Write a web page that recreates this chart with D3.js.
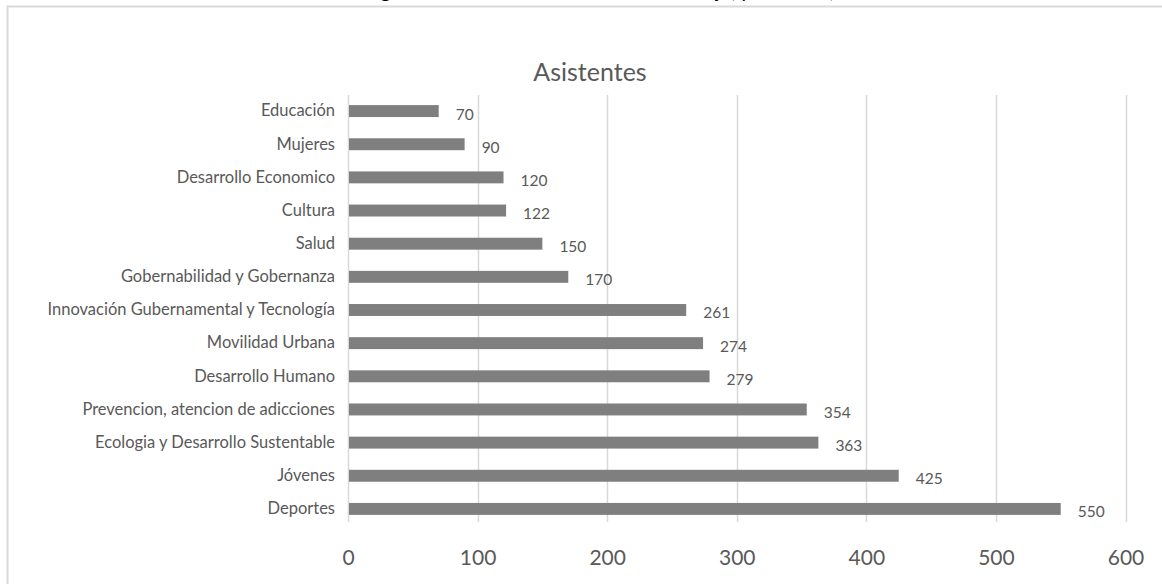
<!DOCTYPE html>
<html>
<head>
<meta charset="utf-8">
<script src="https://cdn.jsdelivr.net/npm/d3@7"></script>
<style>
  html, body { margin: 0; padding: 0; background: #fff; }
  svg { display: block; font-family: Lato, "Open Sans", sans-serif; }
</style>
</head>
<body>
<svg id="chart" width="1162" height="584"></svg>
<script>
// Categories from top to bottom and their attendee counts
const categories = [
  "Educación", "Mujeres", "Desarrollo Economico", "Cultura", "Salud",
  "Gobernabilidad y Gobernanza", "Innovación Gubernamental y Tecnología",
  "Movilidad Urbana", "Desarrollo Humano", "Prevencion, atencion de adicciones",
  "Ecologia y Desarrollo Sustentable", "Jóvenes", "Deportes"
];
const asistentes = [70, 90, 120, 122, 150, 170, 261, 274, 279, 354, 363, 425, 550];
const xTicks = [0, 100, 200, 300, 400, 500, 600];
const chartTitle = "Asistentes";
const caption = "Figura 7. Asistentes a las mesas de trabajo, por sector, 2019";

const svg = d3.select("#chart");
const textColor = "#595959";
const gridColor = "#d9d9d9";
const barColor = "#7f7f7f";

// Caption of the figure sits above the chart frame, running off the top edge
svg.append("text")
  .attr("x", 625).attr("y", -2.5)
  .attr("text-anchor", "middle")
  .attr("font-size", 20)
  .attr("fill", "#000")
  .text(caption);

// Chart frame
svg.append("rect")
  .attr("x", 7.5).attr("y", 6.5)
  .attr("width", 1200).attr("height", 620)
  .attr("fill", "#fff")
  .attr("stroke", gridColor)
  .attr("stroke-width", 2);

const x = d3.scaleLinear().domain([0, 600]).range([348, 1125.5]);
const y = d3.scaleBand().domain(categories).range([94.5, 525.5]).paddingInner(0.64).paddingOuter(0.32);

// Vertical gridlines
svg.append("g")
  .selectAll("line")
  .data(xTicks)
  .join("line")
  .attr("x1", d => Math.round(x(d)) + 0.5)
  .attr("x2", d => Math.round(x(d)) + 0.5)
  .attr("y1", 95)
  .attr("y2", 522)
  .attr("stroke", gridColor)
  .attr("stroke-width", 1.5);

// Bars
svg.append("g")
  .selectAll("rect")
  .data(categories)
  .join("rect")
  .attr("x", x(0) + 1)
  .attr("y", d => y(d))
  .attr("width", (d, i) => x(asistentes[i]) - x(0) - 1)
  .attr("height", y.bandwidth())
  .attr("fill", barColor);

// Value labels
svg.append("g")
  .selectAll("text")
  .data(categories)
  .join("text")
  .attr("x", (d, i) => x(asistentes[i]) + 17)
  .attr("y", d => y(d) + y.bandwidth() / 2 + 3)
  .attr("dy", "0.35em")
  .attr("font-size", 15.5)
  .attr("fill", textColor)
  .text((d, i) => asistentes[i]);

// Category axis
const yAxis = d3.axisLeft(y).tickSize(0).tickPadding(13);
const gy = svg.append("g")
  .attr("transform", `translate(${x(0)},0)`)
  .call(yAxis);
gy.select(".domain").remove();
gy.selectAll("text")
  .attr("font-size", 16.5)
  .attr("font-family", "Lato, 'Open Sans', sans-serif")
  .attr("fill", textColor);

// Value axis
const xAxis = d3.axisBottom(x).tickValues(xTicks).tickSize(0).tickPadding(0);
const gx = svg.append("g")
  .attr("transform", "translate(0,550)")
  .call(xAxis);
gx.select(".domain").remove();
gx.selectAll("text")
  .attr("font-size", 21)
  .attr("font-family", "Lato, 'Open Sans', sans-serif")
  .attr("fill", textColor);

// Chart title
svg.append("text")
  .attr("x", 590).attr("y", 81)
  .attr("text-anchor", "middle")
  .attr("font-size", 25)
  .attr("fill", textColor)
  .text(chartTitle);
</script>
</body>
</html>
